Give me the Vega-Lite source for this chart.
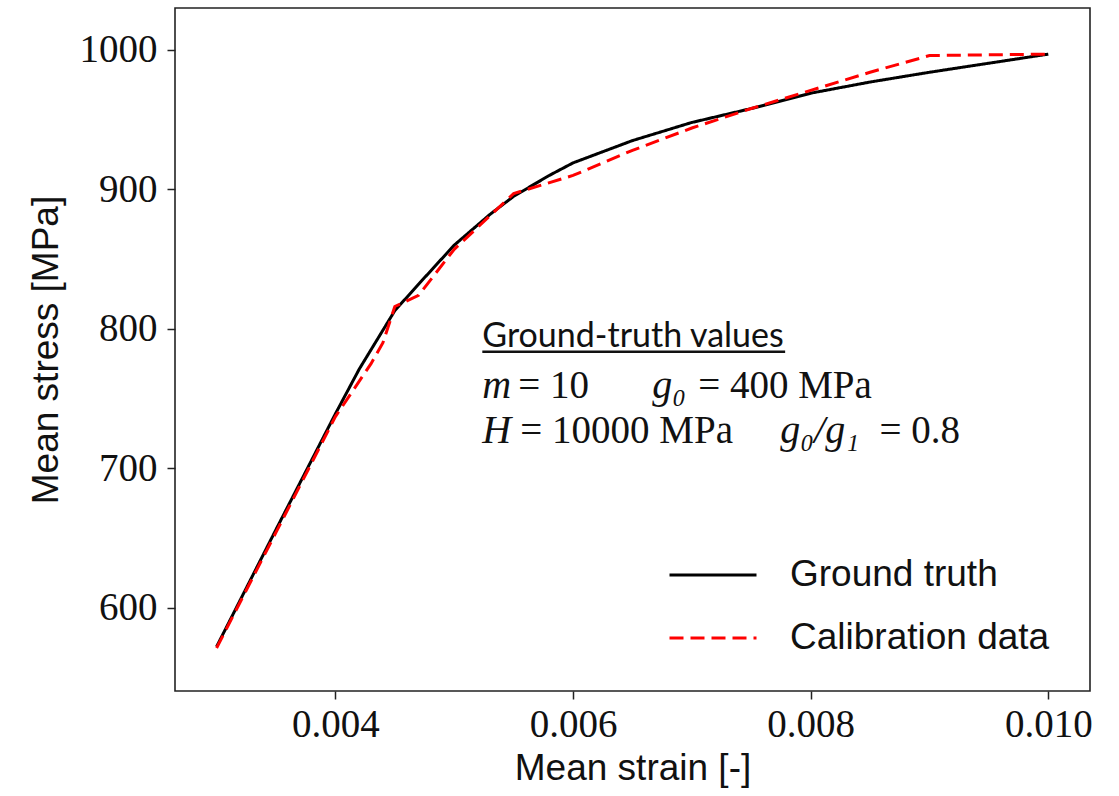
{
  "$schema": "https://vega.github.io/schema/vega-lite/v6.json",
  "width": 915,
  "height": 683,
  "autosize": {"type": "none"},
  "padding": {"left": 175, "top": 8, "right": 29, "bottom": 105},
  "background": "white",
  "config": {
    "view": {"stroke": "#222222", "strokeWidth": 1.6},
    "axis": {
      "grid": false,
      "domain": false,
      "ticks": true,
      "tickColor": "#222222",
      "tickWidth": 1.5,
      "tickSize": 8,
      "labelFont": "Liberation Serif",
      "labelFontSize": 39,
      "labelColor": "#111111",
      "titleFont": "Liberation Sans",
      "titleFontSize": 37,
      "titleFontWeight": "normal",
      "titleColor": "#111111"
    }
  },
  "datasets": {
    "curves": [
      {"strain": 0.003, "stress": 572, "series": "Ground truth"},
      {"strain": 0.0035, "stress": 656, "series": "Ground truth"},
      {"strain": 0.004, "stress": 739, "series": "Ground truth"},
      {"strain": 0.0042, "stress": 771, "series": "Ground truth"},
      {"strain": 0.0045, "stress": 813, "series": "Ground truth"},
      {"strain": 0.0047, "stress": 832, "series": "Ground truth"},
      {"strain": 0.005, "stress": 860, "series": "Ground truth"},
      {"strain": 0.0053, "stress": 882, "series": "Ground truth"},
      {"strain": 0.0055, "stress": 895, "series": "Ground truth"},
      {"strain": 0.0058, "stress": 910, "series": "Ground truth"},
      {"strain": 0.006, "stress": 919, "series": "Ground truth"},
      {"strain": 0.0065, "stress": 935, "series": "Ground truth"},
      {"strain": 0.007, "stress": 948, "series": "Ground truth"},
      {"strain": 0.0075, "stress": 958, "series": "Ground truth"},
      {"strain": 0.008, "stress": 969, "series": "Ground truth"},
      {"strain": 0.0085, "stress": 977, "series": "Ground truth"},
      {"strain": 0.009, "stress": 984, "series": "Ground truth"},
      {"strain": 0.0095, "stress": 990.5, "series": "Ground truth"},
      {"strain": 0.01, "stress": 997, "series": "Ground truth"},
      {"strain": 0.003, "stress": 571, "series": "Calibration data"},
      {"strain": 0.0035, "stress": 654, "series": "Calibration data"},
      {"strain": 0.004, "stress": 737, "series": "Calibration data"},
      {"strain": 0.0043, "stress": 775, "series": "Calibration data"},
      {"strain": 0.0044, "stress": 790, "series": "Calibration data"},
      {"strain": 0.0045, "stress": 816, "series": "Calibration data"},
      {"strain": 0.0047, "stress": 824, "series": "Calibration data"},
      {"strain": 0.005, "stress": 857, "series": "Calibration data"},
      {"strain": 0.0055, "stress": 897, "series": "Calibration data"},
      {"strain": 0.006, "stress": 910, "series": "Calibration data"},
      {"strain": 0.0065, "stress": 928, "series": "Calibration data"},
      {"strain": 0.007, "stress": 944, "series": "Calibration data"},
      {"strain": 0.0075, "stress": 958, "series": "Calibration data"},
      {"strain": 0.008, "stress": 971, "series": "Calibration data"},
      {"strain": 0.0085, "stress": 984, "series": "Calibration data"},
      {"strain": 0.009, "stress": 996, "series": "Calibration data"},
      {"strain": 0.01, "stress": 997, "series": "Calibration data"}
    ],
    "heading": [
      {"strain": 0.0052365, "stress": 786.9, "label": "Ground-truth values"}
    ],
    "underline": [
      {"strain": 0.0052365, "strain2": 0.0077852, "stress": 783.6}
    ],
    "mathItalic": [
      {"strain": 0.0052365, "stress": 750.4, "label": "m"},
      {"strain": 0.0066665, "stress": 750.4, "label": "g₀"},
      {"strain": 0.0052365, "stress": 717.9, "label": "H"},
      {"strain": 0.0077431, "stress": 717.9, "label": "g₀/g₁"}
    ],
    "mathRoman": [
      {"strain": 0.0055393, "stress": 750.4, "label": "= 10"},
      {"strain": 0.0070534, "stress": 750.4, "label": "= 400 MPa"},
      {"strain": 0.0055561, "stress": 717.9, "label": "= 10000 MPa"},
      {"strain": 0.0085800, "stress": 717.9, "label": "= 0.8"}
    ]
  },
  "layer": [
    {
      "data": {"name": "curves"},
      "mark": {"type": "line", "strokeWidth": 3, "clip": true},
      "encoding": {
        "x": {
          "field": "strain",
          "type": "quantitative",
          "scale": {"domain": [0.00265, 0.010351], "nice": false, "zero": false},
          "axis": {"values": [0.004, 0.006, 0.008, 0.010], "format": ".3f", "title": "Mean strain [-]", "labelPadding": 6, "titlePadding": 6}
        },
        "y": {
          "field": "stress",
          "type": "quantitative",
          "scale": {"domain": [540.2, 1030.1], "nice": false, "zero": false},
          "axis": {"values": [600, 700, 800, 900, 1000], "format": "d", "title": "Mean stress [MPa]", "labelPadding": 10, "titlePadding": 14}
        },
        "color": {
          "field": "series",
          "type": "nominal",
          "scale": {"domain": ["Ground truth", "Calibration data"], "range": ["black", "red"]},
          "legend": {
            "title": null,
            "orient": "none",
            "legendX": 493,
            "legendY": 522,
            "symbolType": "stroke",
            "symbolSize": 7569,
            "symbolStrokeWidth": 3,
            "labelFont": "Liberation Sans",
            "labelFontSize": 37,
            "labelColor": "#111111",
            "labelOffset": 32,
            "labelLimit": 500,
            "rowPadding": -10,
            "padding": 0
          }
        },
        "strokeDash": {
          "field": "series",
          "type": "nominal",
          "scale": {"domain": ["Ground truth", "Calibration data"], "range": [[1, 0], [14, 7]]},
          "legend": {
            "title": null,
            "orient": "none",
            "legendX": 493,
            "legendY": 522,
            "symbolType": "stroke",
            "symbolSize": 7569,
            "symbolStrokeWidth": 3,
            "labelFont": "Liberation Sans",
            "labelFontSize": 37,
            "labelColor": "#111111",
            "labelOffset": 32,
            "labelLimit": 500,
            "rowPadding": -10,
            "padding": 0
          }
        }
      }
    },
    {
      "data": {"name": "heading"},
      "mark": {"type": "text", "align": "left", "baseline": "alphabetic", "font": "Lato", "fontSize": 34, "color": "#111111"},
      "encoding": {
        "x": {"field": "strain", "type": "quantitative"},
        "y": {"field": "stress", "type": "quantitative"},
        "text": {"field": "label"}
      }
    },
    {
      "data": {"name": "underline"},
      "mark": {"type": "rule", "strokeWidth": 2.5, "color": "#111111"},
      "encoding": {
        "x": {"field": "strain", "type": "quantitative"},
        "x2": {"field": "strain2"},
        "y": {"field": "stress", "type": "quantitative"}
      }
    },
    {
      "data": {"name": "mathItalic"},
      "mark": {"type": "text", "align": "left", "baseline": "alphabetic", "font": "Liberation Serif", "fontStyle": "italic", "fontSize": 40, "color": "#111111"},
      "encoding": {
        "x": {"field": "strain", "type": "quantitative"},
        "y": {"field": "stress", "type": "quantitative"},
        "text": {"field": "label"}
      }
    },
    {
      "data": {"name": "mathRoman"},
      "mark": {"type": "text", "align": "left", "baseline": "alphabetic", "font": "Liberation Serif", "fontSize": 39, "color": "#111111"},
      "encoding": {
        "x": {"field": "strain", "type": "quantitative"},
        "y": {"field": "stress", "type": "quantitative"},
        "text": {"field": "label"}
      }
    }
  ]
}
